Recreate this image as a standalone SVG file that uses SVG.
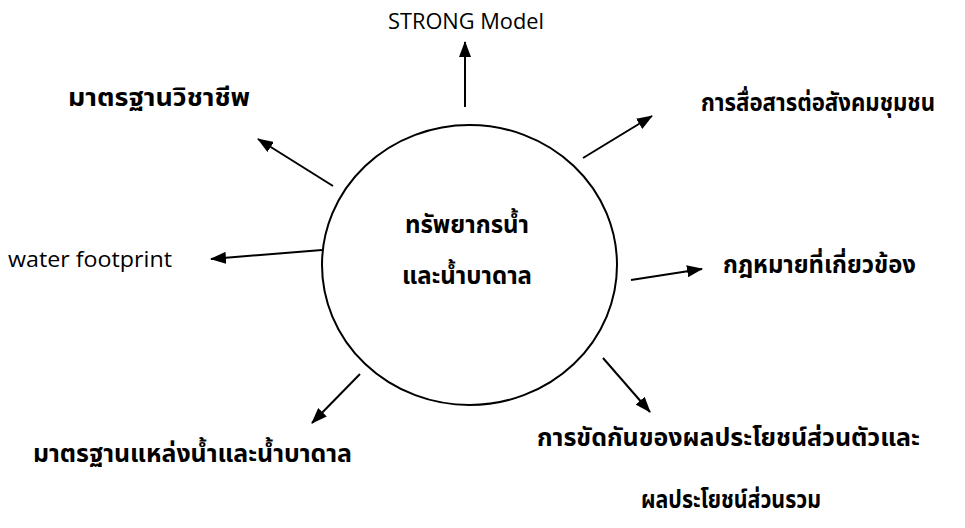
<svg xmlns="http://www.w3.org/2000/svg" width="965" height="528" viewBox="0 0 965 528">
<style>
.en{font-family:"Open Sans","Noto Sans",sans-serif;font-size:22px;font-weight:500;fill:#000}
.th{font-family:"Noto Sans Thai","Noto Serif Thai","Noto Sans",sans-serif;font-size:24px;font-weight:bold;fill:#000}
.c{stroke:#000;stroke-width:2;fill:none}
</style>
<defs>
<marker id="a" viewBox="0 0 16 12" refX="15" refY="6" markerWidth="16" markerHeight="12" markerUnits="userSpaceOnUse" orient="auto">
<path d="M0,0 L16,6 L0,12 z" fill="#000"/>
</marker>
</defs>
<g id="center">
<ellipse cx="469.5" cy="265" rx="147.5" ry="140" fill="#fff" stroke="#000" stroke-width="2"/>
<text class="th" x="467" y="233" text-anchor="middle">ทรัพยากรน้ำ</text>
<text class="th" x="467" y="284" text-anchor="middle">และน้ำบาดาล</text>
</g>
<g id="connectors">
<line class="c" x1="465" y1="107" x2="465" y2="42" marker-end="url(#a)"/>
<line class="c" x1="583" y1="158" x2="652" y2="116" marker-end="url(#a)"/>
<line class="c" x1="333" y1="186" x2="258" y2="139" marker-end="url(#a)"/>
<line class="c" x1="322" y1="250" x2="211" y2="259" marker-end="url(#a)"/>
<line class="c" x1="631" y1="280" x2="702" y2="269" marker-end="url(#a)"/>
<line class="c" x1="360" y1="374" x2="312" y2="423" marker-end="url(#a)"/>
<line class="c" x1="603" y1="358" x2="650" y2="412" marker-end="url(#a)"/>
</g>
<g id="n-strong"><text class="en" x="466" y="29" text-anchor="middle" textLength="156" lengthAdjust="spacingAndGlyphs">STRONG Model</text></g>
<g id="n-prof"><text class="th" x="68" y="106" textLength="182" lengthAdjust="spacingAndGlyphs">มาตรฐานวิชาชีพ</text></g>
<g id="n-comm"><text class="th" x="701" y="111" textLength="234" lengthAdjust="spacingAndGlyphs">การสื่อสารต่อสังคมชุมชน</text></g>
<g id="n-wf"><text class="en" x="8" y="267" textLength="164" lengthAdjust="spacingAndGlyphs">water footprint</text></g>
<g id="n-law"><text class="th" x="723" y="273" textLength="193" lengthAdjust="spacingAndGlyphs">กฎหมายที่เกี่ยวข้อง</text></g>
<g id="n-std"><text class="th" x="33" y="462" textLength="319" lengthAdjust="spacingAndGlyphs">มาตรฐานแหล่งน้ำและน้ำบาดาล</text></g>
<g id="n-conflict">
<text class="th" x="537" y="446" textLength="383" lengthAdjust="spacingAndGlyphs">การขัดกันของผลประโยชน์ส่วนตัวและ</text>
<text class="th" x="641" y="508" textLength="180" lengthAdjust="spacingAndGlyphs">ผลประโยชน์ส่วนรวม</text>
</g>
</svg>
